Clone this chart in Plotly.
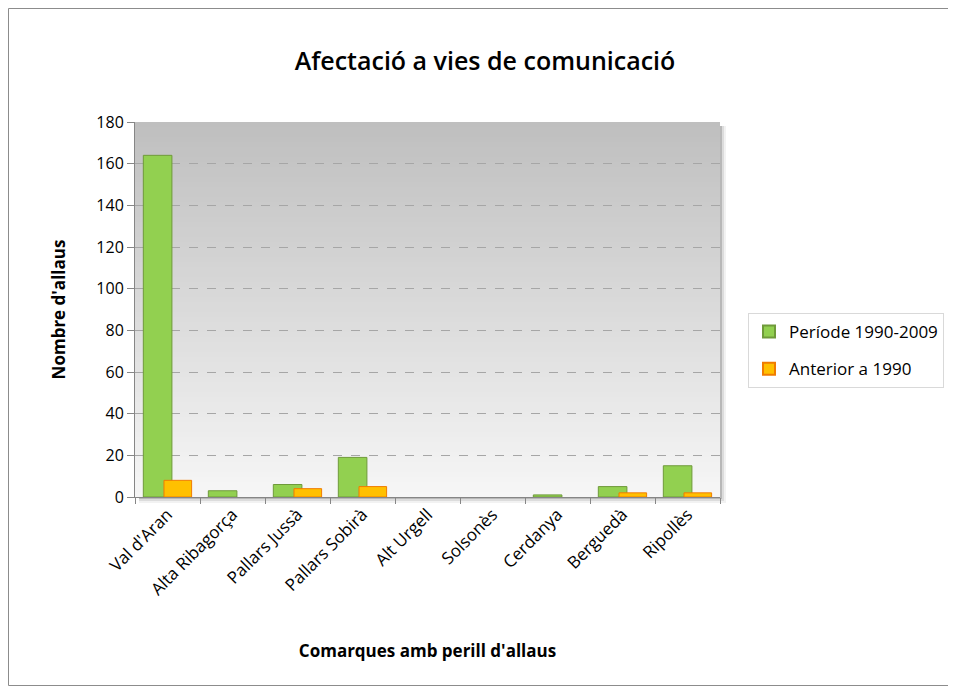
import plotly.graph_objects as go

categories = ["Val d'Aran", "Alta Ribagorça", "Pallars Jussà", "Pallars Sobirà",
              "Alt Urgell", "Solsonès", "Cerdanya", "Berguedà", "Ripollès"]
periode_1990_2009 = [164, 3, 6, 19, 0, 0, 1, 5, 15]
anterior_1990 = [8, 0, 4, 5, 0, 0, 0, 2, 2]
y_ticks = [0, 20, 40, 60, 80, 100, 120, 140, 160, 180]

FONT = "'Open Sans', sans-serif"
W, H = 942, 678
L, T = 127, 114
PW, PH = 585, 375
R = W - L - PW
B = H - T - PH

fig = go.Figure()
fig.add_trace(go.Bar(
    x=categories, y=periode_1990_2009, name="Període 1990-2009", legendgroup="a",
    marker=dict(color="#92d050",
                line=dict(color="#6f9a3a", width=[1 if v else 0 for v in periode_1990_2009])),
    width=0.44, offset=-0.372,
))
fig.add_trace(go.Bar(
    x=categories, y=anterior_1990, name="Anterior a 1990", legendgroup="b",
    marker=dict(color="#ffc000",
                line=dict(color="#f07c00", width=[1 if v else 0 for v in anterior_1990])),
    width=0.425, offset=-0.054,
))

shapes = []
# shadow of plot area
for k, a in enumerate([0.16, 0.09, 0.05]):
    d = (k + 1) * 2
    shapes.append(dict(type="rect", xref="paper", yref="paper",
                       x0=4 / PW, x1=1 + d / PW, y0=-d / PH, y1=1 - 4 / PH,
                       fillcolor="rgba(0,0,0,%s)" % a, line=dict(width=0), layer="below"))
# gradient background in plot area
n = 75
top = (191, 191, 191)
bot = (246, 246, 246)
for i in range(n):
    t = i / (n - 1)
    c = tuple(int(round(top[k] + (bot[k] - top[k]) * t)) for k in range(3))
    shapes.append(dict(type="rect", xref="x domain", yref="y domain",
                       x0=0, x1=1, y0=1 - (i + 1) / n, y1=1 - i / n,
                       fillcolor="rgb(%d,%d,%d)" % c, line=dict(width=0), layer="below"))
# outer border
shapes.append(dict(type="rect", xref="paper", yref="paper",
                   x0=(0.5 - L) / PW, x1=(W - 0.5 - L) / PW,
                   y0=-(B - 0.5) / PH, y1=1 + (T - 0.5) / PH,
                   line=dict(color="#8c8c8c", width=1), fillcolor="rgba(0,0,0,0)"))

fig.update_layout(
    width=W, height=H,
    margin=dict(l=L, r=R, t=T, b=B, autoexpand=False),
    paper_bgcolor="white", plot_bgcolor="rgba(0,0,0,0)",
    barmode="overlay",
    shapes=shapes,
    font=dict(family=FONT, color="#000000"),
    title=dict(text="Afectació a vies de comunicació", x=477 / W, xref="container",
               y=1 - 53 / H, yref="container", xanchor="center", yanchor="middle",
               font=dict(size=25, family=FONT, color="#000", weight=600)),
    legend=dict(x=(740 - L) / PW, y=1 - (305 - T) / PH, xanchor="left", yanchor="top",
                bgcolor="white", bordercolor="#d9d9d9", borderwidth=1,
                font=dict(size=17, family=FONT), tracegroupgap=12,
                itemsizing="constant", itemwidth=30),
    xaxis=dict(
        tickangle=-45, tickfont=dict(size=17, family=FONT),
        showline=True, linecolor="#868686", linewidth=1,
        ticks="outside", ticklen=6, tickcolor="#868686", tickson="boundaries",
        showgrid=False, automargin=False,
        title=dict(text="Comarques amb perill d'allaus",
                   font=dict(size=17, family=FONT, weight="bold"), standoff=46),
    ),
    yaxis=dict(
        range=[0, 180], tickvals=y_ticks, tickfont=dict(size=16, family=FONT),
        showline=True, linecolor="#868686", linewidth=1,
        ticks="outside", ticklen=7, tickcolor="#868686",
        showgrid=True, gridcolor="#a6a6a6", griddash="dash", gridwidth=1,
        zeroline=False, automargin=False,
        title=dict(text="Nombre d'allaus",
                   font=dict(size=17, family=FONT, weight="bold"), standoff=26),
    ),
)

fig.write_html("out.html")
